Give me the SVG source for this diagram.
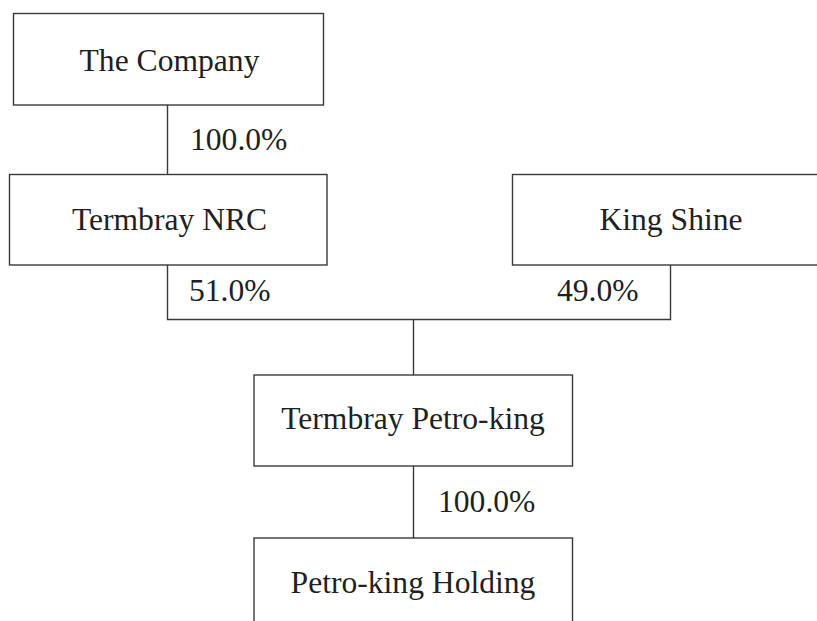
<svg xmlns="http://www.w3.org/2000/svg" width="817" height="621" viewBox="0 0 817 621">
<style>
.box{fill:#fff;stroke:#3a3a3a;stroke-width:1.4}
.ln{fill:none;stroke:#3a3a3a;stroke-width:1.4}
text{font-family:"Liberation Serif","Times New Roman",serif;font-size:31.6px;fill:#231f20}
.c{text-anchor:middle}
</style>
<rect width="817" height="621" fill="#fff"/>
<g id="connectors">
<line class="ln" x1="167.5" y1="105" x2="167.5" y2="174"/>
<polyline class="ln" points="167.5,265 167.5,319.5 670.5,319.5 670.5,265"/>
<line class="ln" x1="413.5" y1="319.5" x2="413.5" y2="375"/>
<line class="ln" x1="413.5" y1="466" x2="413.5" y2="538"/>
<text x="190" y="150">100.0%</text>
<text x="189" y="301">51.0%</text>
<text x="557" y="301">49.0%</text>
<text x="438" y="512">100.0%</text>
</g>
<g id="the-company">
<rect class="box" x="13.5" y="13.5" width="310" height="91.5"/>
<text class="c" x="169.5" y="71">The Company</text>
</g>
<g id="termbray-nrc">
<rect class="box" x="9.5" y="174.5" width="317.5" height="90.5"/>
<text class="c" x="169.5" y="230">Termbray NRC</text>
</g>
<g id="king-shine">
<rect class="box" x="512.5" y="174.5" width="320" height="90.5"/>
<text class="c" x="671" y="230">King Shine</text>
</g>
<g id="termbray-petro-king">
<rect class="box" x="254" y="375" width="318.5" height="91"/>
<text class="c" x="413" y="429">Termbray Petro-king</text>
</g>
<g id="petro-king-holding">
<rect class="box" x="254" y="538" width="318.5" height="100"/>
<text class="c" x="413" y="593">Petro-king Holding</text>
</g>
</svg>
